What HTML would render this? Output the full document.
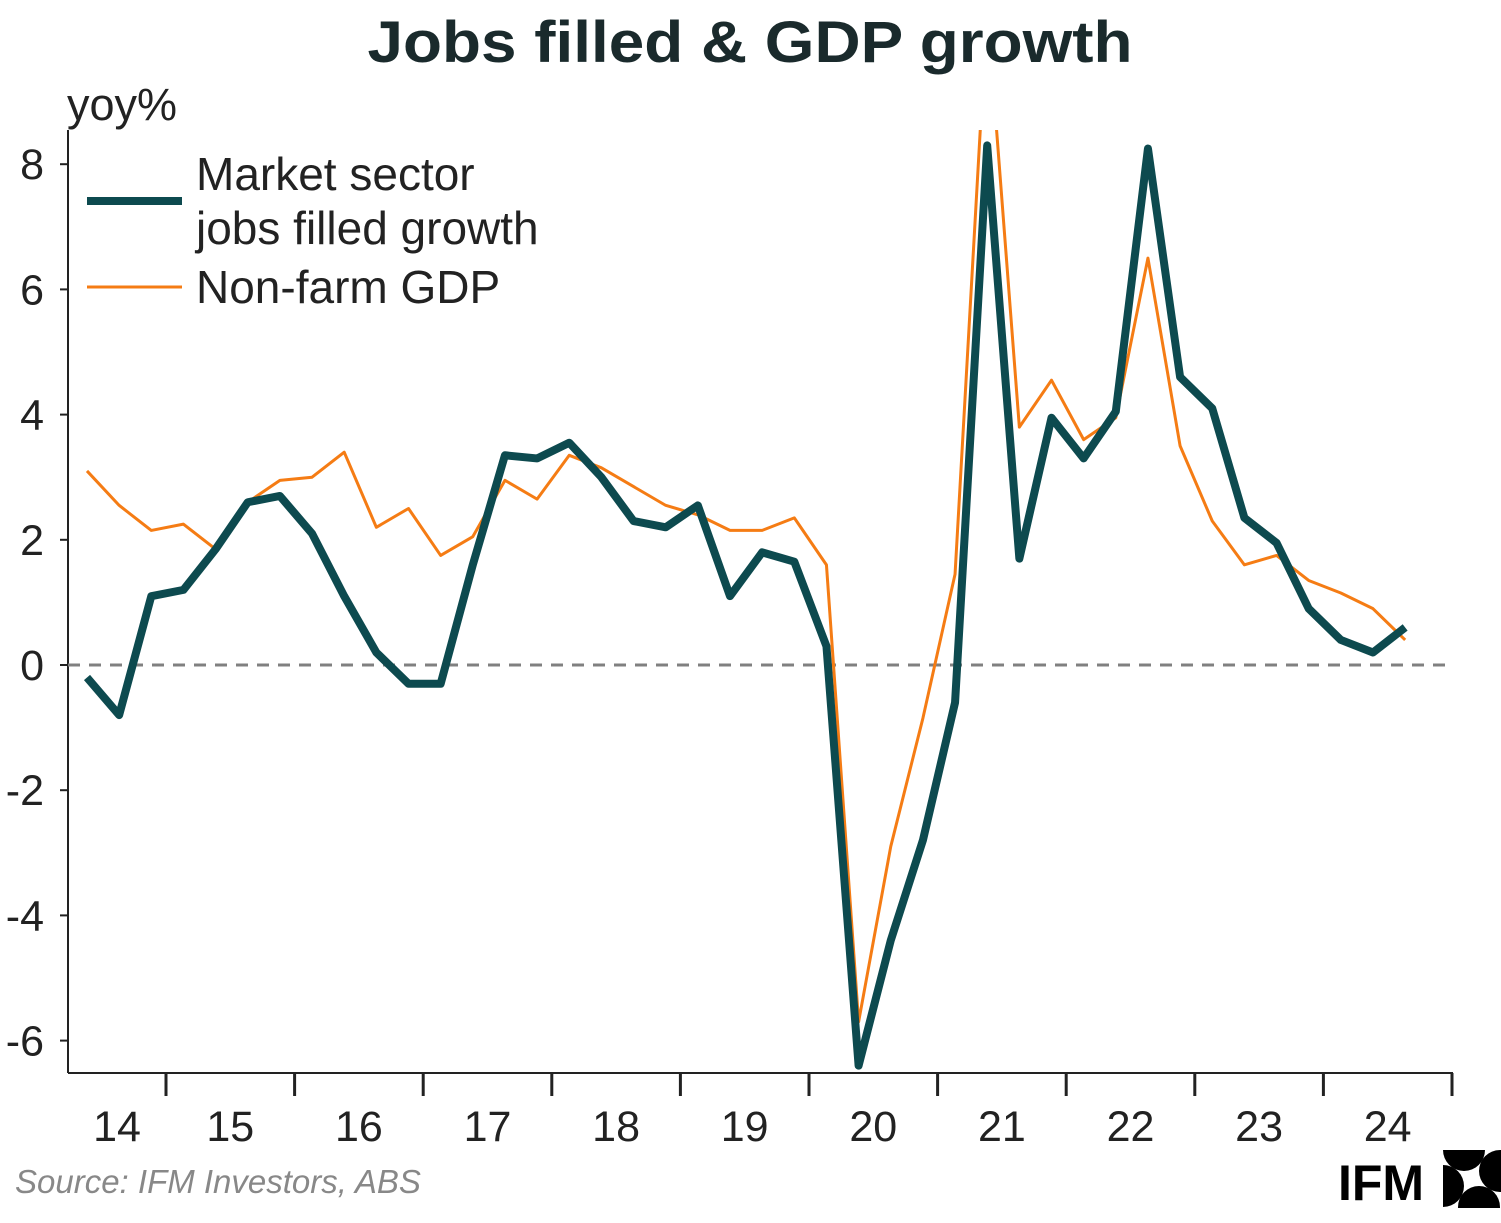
<!DOCTYPE html>
<html><head><meta charset="utf-8"><style>
body{margin:0;background:#fff;width:1501px;height:1218px;overflow:hidden;font-family:"Liberation Sans",sans-serif}
</style></head><body>
<svg id="chart" width="1501" height="1218" xmlns="http://www.w3.org/2000/svg">
<defs><clipPath id="plotclip"><rect x="68" y="130" width="1400" height="943"/></clipPath>
<clipPath id="logoclip"><rect x="1443" y="1150" width="58" height="58"/></clipPath></defs>
<text x="750" y="62" text-anchor="middle" font-size="58" font-weight="bold" fill="#1a2a2c" textLength="765" lengthAdjust="spacingAndGlyphs">Jobs filled &amp; GDP growth</text>
<text x="67" y="120" font-size="45" fill="#222">yoy%</text>
<g id="axes"></g>
<g id="series" clip-path="url(#plotclip)"></g>
<g>
<line x1="87" y1="201" x2="182" y2="201" stroke="#0d4a4f" stroke-width="8"/>
<text x="196" y="190" font-size="46" fill="#222">Market sector</text>
<text x="196" y="244" font-size="46" fill="#222">jobs filled growth</text>
<line x1="87" y1="287" x2="182" y2="287" stroke="#f57c14" stroke-width="3"/>
<text x="196" y="303" font-size="46" fill="#222">Non-farm GDP</text>
</g>
<text x="15" y="1193" font-size="33" font-style="italic" fill="#888">Source: IFM Investors, ABS</text>
<g>
<text x="1338" y="1200" font-size="50" font-weight="bold" fill="#000">IFM</text>
<g clip-path="url(#logoclip)">
<circle cx="1464" cy="1150" r="21" fill="#000"/><circle cx="1500" cy="1171" r="21" fill="#000"/>
<circle cx="1479" cy="1207" r="21" fill="#000"/><circle cx="1443" cy="1186" r="21" fill="#000"/>
</g>
</g>
</svg>
<script>
const jobs=[-0.2,-0.8,1.1,1.2,1.85,2.6,2.7,2.1,1.1,0.2,-0.3,-0.3,1.6,3.35,3.3,3.55,3.0,2.3,2.2,2.55,1.1,1.8,1.65,0.3,-6.4,-4.4,-2.8,-0.6,8.3,1.7,3.95,3.3,4.05,8.25,4.6,4.1,2.35,1.95,0.9,0.4,0.2,0.6];
const gdp=[3.1,2.55,2.15,2.25,1.85,2.6,2.95,3.0,3.4,2.2,2.5,1.75,2.05,2.95,2.65,3.35,3.15,2.85,2.55,2.4,2.15,2.15,2.35,1.6,-5.7,-2.9,-0.85,1.45,10.5,3.8,4.55,3.6,3.95,6.5,3.5,2.3,1.6,1.75,1.35,1.15,0.9,0.4];
const yTicks=[8,6,4,2,0,-2,-4,-6];
const xLabels=["14","15","16","17","18","19","20","21","22","23","24"];
const NS="http://www.w3.org/2000/svg";
const y=v=>665-v*62.6;
const x=i=>87+i*32.15;
const yearX=k=>37.4+k*128.6;
const axes=document.getElementById('axes');
function mk(tag,attrs,parent){const e=document.createElementNS(NS,tag);for(const k in attrs)e.setAttribute(k,attrs[k]);parent.appendChild(e);return e;}
let l=mk('line',{x1:68,y1:130,x2:68,y2:1073,stroke:'#222','stroke-width':2},axes);


l=mk('line',{x1:68,y1:1073,x2:1453,y2:1073,stroke:'#222','stroke-width':2},axes);


yTicks.forEach(v=>{
 const t=mk('line',{x1:60,y1:y(v),x2:68,y2:y(v),stroke:'#222','stroke-width':2},axes);
 
 
 const tx=mk('text',{x:44,y:y(v)+15,'text-anchor':'end','font-size':43,fill:'#222'},axes);
 tx.textContent=v;
 
 
});
xLabels.forEach((s,k)=>{
 const tk=mk('line',{x1:yearX(k+1),y1:1073,x2:yearX(k+1),y2:1096,stroke:'#222','stroke-width':3},axes);
 
 
 const cx=k==0?117:(yearX(k)+yearX(k+1))/2;
 const tx=mk('text',{x:cx,y:1141,'text-anchor':'middle','font-size':43,fill:'#222'},axes);
 tx.textContent=s;
 
 
});
const zl=mk('line',{x1:68,y1:y(0),x2:1450,y2:y(0),stroke:'#808080','stroke-width':3,'stroke-dasharray':'12,9'},axes);


const ser=document.getElementById('series');
const gp=mk('polyline',{points:gdp.map((v,i)=>x(i)+','+y(v)).join(' '),fill:'none',stroke:'#f57c14','stroke-width':3,'stroke-linejoin':'round'},ser);


const jp=mk('polyline',{points:jobs.map((v,i)=>x(i)+','+y(v)).join(' '),fill:'none',stroke:'#0d4a4f','stroke-width':8,'stroke-linejoin':'round'},ser);


</script>
</body></html>
